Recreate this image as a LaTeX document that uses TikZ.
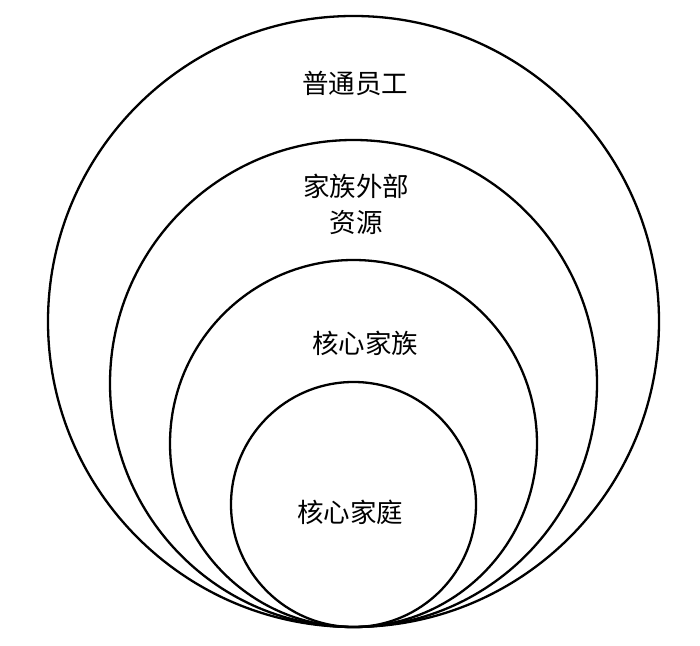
\documentclass[tikz,border=0pt]{standalone}
\usepackage{fontspec}
\newfontfamily\cjk{Noto Sans CJK SC}
\begin{document}
\begin{tikzpicture}[x=1bp,y=1bp,
  ring/.style={draw=black,line width=2.3bp},
  lbl/.style={font=\cjk\fontsize{26.5bp}{36bp}\selectfont,align=center,inner sep=0pt}]
\useasboundingbox (0,0) rectangle (700,646);
\fill[white] (0,0) rectangle (700,646);
% bottom tangent point at (353.5, 19)
\draw[ring] (353.5,324.5) circle (305.5);
\draw[ring] (353.5,262.5) circle (243.5);
\draw[ring] (353.5,202.5) circle (183.5);
\draw[ring] (353.5,141.5) circle (122.5);
\node[lbl] (a) at (355,563) {普通员工};
\node[lbl] (b) at (356,442) {家族外部\\资源};
\node[lbl] (c) at (365,303) {核心家族};
\node[lbl] (d) at (350,134) {核心家庭};
\end{tikzpicture}
\end{document}
